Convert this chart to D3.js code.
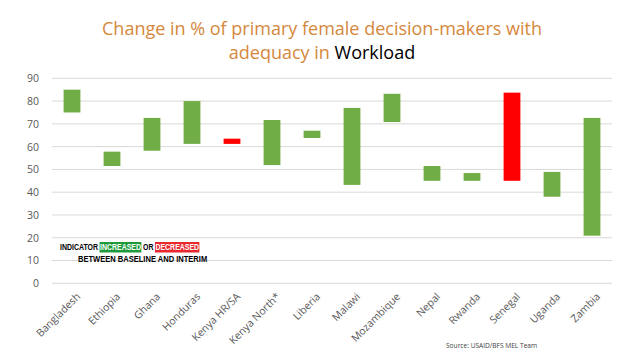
<!DOCTYPE html>
<html>
<head>
<meta charset="utf-8">
<script src="https://cdn.jsdelivr.net/npm/d3@7"></script>
<style>
body { margin: 0; background: #fff; }
svg text { font-family: "Open Sans", "Noto Sans", sans-serif; }
</style>
</head>
<body>
<svg id="chart" width="638" height="359"></svg>
<script>
var COUNTRIES = ["Bangladesh", "Ethiopia", "Ghana", "Honduras", "Kenya HR/SA", "Kenya North*",
	"Liberia", "Malawi", "Mozambique", "Nepal", "Rwanda", "Senegal", "Uganda", "Zambia"];
var BASELINE = [75, 51.5, 58.2, 61.2, 63.5, 51.9, 63.8, 43.2, 70.8, 45, 45, 83.7, 38, 20.9];
var INTERIM = [85, 57.8, 72.6, 80, 61.2, 71.7, 67, 77, 83.2, 51.5, 48.4, 45, 48.9, 72.6];
var Y_TICKS = [0, 10, 20, 30, 40, 50, 60, 70, 80, 90];

var COLOR_UP = "#70AD47";
var COLOR_DOWN = "#FF0000";
var TITLE_COLOR = "#D4883C";

var svg = d3.select("#chart");
var plotLeft = 52, plotRight = 612, plotTop = 78.3, plotBottom = 283.3;

var x = d3.scaleBand().domain(COUNTRIES).range([plotLeft, plotRight]).paddingInner(0.58).paddingOuter(0.29);
var y = d3.scaleLinear().domain([0, 90]).range([plotBottom, plotTop]);

// title
var title = svg.append("text")
	.attr("text-anchor", "middle")
	.attr("font-size", 18)
	.attr("fill", TITLE_COLOR);
title.append("tspan").attr("x", 322).attr("y", 35).text("Change in % of primary female decision-makers with");
title.append("tspan").attr("x", 322).attr("y", 59).text("adequacy in ");
title.append("tspan").attr("fill", "#000").text("Workload");

// gridlines
svg.append("g")
	.selectAll("line")
	.data(Y_TICKS)
	.enter().append("line")
	.attr("x1", plotLeft).attr("x2", plotRight)
	.attr("y1", function(d) { return y(d); })
	.attr("y2", function(d) { return y(d); })
	.attr("stroke", "#d9d9d9")
	.attr("stroke-width", 1);

// y axis labels
var yAxis = svg.append("g")
	.attr("transform", "translate(" + plotLeft + ",0)")
	.call(d3.axisLeft(y).tickValues(Y_TICKS).tickSize(0).tickPadding(13));
yAxis.select(".domain").remove();
yAxis.selectAll("text").attr("fill", "#595959").attr("font-size", 10.5)
	.style("font-family", "'Open Sans', sans-serif");

// x axis labels
var xAxis = svg.append("g")
	.attr("transform", "translate(0," + plotBottom + ")")
	.call(d3.axisBottom(x).tickSize(0).tickPadding(6));
xAxis.select(".domain").remove();
xAxis.selectAll("text")
	.attr("fill", "#595959")
	.attr("font-size", 10.5)
	.style("font-family", "'Open Sans', sans-serif")
	.attr("text-anchor", "end")
	.attr("dy", "0.5em")
	.attr("transform", "translate(1,6) rotate(-45)");

// bars
svg.append("g")
	.selectAll("rect")
	.data(COUNTRIES)
	.enter().append("rect")
	.attr("x", function(d) { return x(d); })
	.attr("width", x.bandwidth())
	.attr("y", function(d, i) { return y(Math.max(BASELINE[i], INTERIM[i])); })
	.attr("height", function(d, i) { return Math.abs(y(BASELINE[i]) - y(INTERIM[i])); })
	.attr("fill", function(d, i) { return INTERIM[i] >= BASELINE[i] ? COLOR_UP : COLOR_DOWN; });

// legend note: drawn at natural width, then squeezed horizontally
var narrow = "'Liberation Sans Narrow', 'Arial Narrow', sans-serif";
var parts = [["INDICATOR ", null], ["INCREASED", "#1E9A3A"], [" OR ", null], ["DECREASED", "#E8282C"]];

var note1 = svg.append("g");
var bg = note1.append("g");
var l1 = note1.append("text").attr("x", 0).attr("y", 0)
	.attr("font-weight", "bold").attr("font-size", 9.4)
	.style("font-family", narrow).style("white-space", "pre");
var tsp = parts.map(function(p) {
	return l1.append("tspan").attr("fill", p[1] ? "#fff" : "#000").text(p[0]);
});
var cx = 0;
tsp.forEach(function(t, i) {
	var w = t.node().getComputedTextLength();
	if (parts[i][1]) {
		bg.append("rect").attr("x", cx - 0.5).attr("y", -8).attr("width", w + 1).attr("height", 10.5)
			.attr("fill", parts[i][1]);
	}
	cx += w;
});
note1.attr("transform", "translate(60,250) scale(" + (139 / cx) + ",1)");

var note2 = svg.append("g");
var l2 = note2.append("text").attr("x", 0).attr("y", 0)
	.attr("font-weight", "bold").attr("font-size", 9.4)
	.style("font-family", narrow).attr("fill", "#000")
	.text("BETWEEN BASELINE AND INTERIM");
var w2 = l2.node().getComputedTextLength();
note2.attr("transform", "translate(78,262) scale(" + (129 / w2) + ",1)");

// source
svg.append("text")
	.attr("x", 446).attr("y", 348)
	.attr("font-size", 6.6)
	.attr("fill", "#404040")
	.text("Source: USAID/BFS MEL Team");
</script>
</body>
</html>
